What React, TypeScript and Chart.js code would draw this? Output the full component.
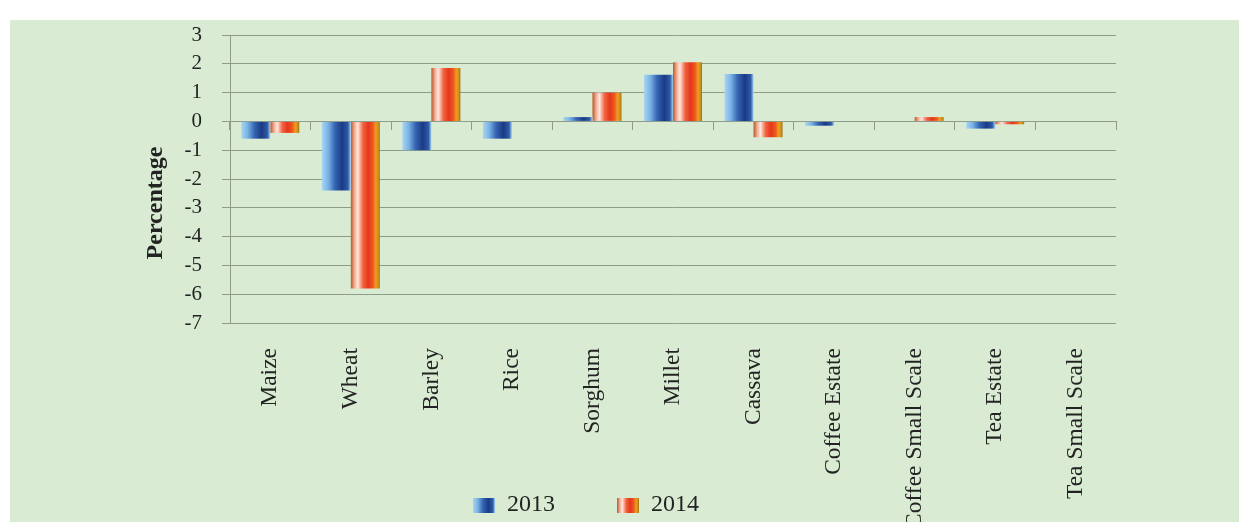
import React, { useEffect, useRef } from 'react';
import { Chart, registerables } from 'chart.js';

Chart.register(...registerables);

const categories = [
  'Maize', 'Wheat', 'Barley', 'Rice', 'Sorghum', 'Millet', 'Cassava',
  'Coffee Estate', 'Coffee Small Scale', 'Tea Estate', 'Tea Small Scale',
];
const seriesLabels = ['2013', '2014'];
const values2013 = [-0.6, -2.4, -1.0, -0.6, 0.15, 1.62, 1.65, -0.15, 0, -0.25, 0];
const values2014 = [-0.4, -5.8, 1.85, 0, 1.0, 2.05, -0.55, 0, 0.15, -0.1, 0];
const yMin = -7;
const yMax = 3;
const yStep = 1;
const yTitle = 'Percentage';

const FONT = "'Liberation Serif', 'DejaVu Serif', serif";
const TEXT = '#232323';
const GREEN = '#d9ecd3';
const GRID = '#8e9c8b';
const PAD_BOTTOM = -5;
const PLOT_BOTTOM = 323;

const blueStops: [number, string][] = [
  [0, '#a9d5f3'], [0.22, '#7ab2e4'], [0.45, '#3565b3'], [0.7, '#1b3a85'],
  [0.9, '#2e5aa6'], [1, '#a4d0f1'],
];
const redStops: [number, string][] = [
  [0, '#b9582a'], [0.14, '#f6b49c'], [0.24, '#fde6de'], [0.42, '#f2623e'],
  [0.6, '#e5361c'], [0.76, '#ec5a1e'], [0.86, '#f39a22'], [0.95, '#c8901a'], [1, '#9e6c12'],
];
const stopsFor = [blueStops, redStops];

function makeIcon(stops: [number, string][]) {
  const c = document.createElement('canvas');
  c.width = 22;
  c.height = 15;
  const g = c.getContext('2d')!;
  const grad = g.createLinearGradient(0, 0, 22, 0);
  stops.forEach(([o, col]) => grad.addColorStop(o, col));
  g.fillStyle = grad;
  g.fillRect(0, 0, 22, 15);
  return c;
}

const backgroundPlugin = {
  id: 'scanBackground',
  beforeDraw(chart: any) {
    const { ctx, width, height } = chart;
    ctx.save();
    ctx.fillStyle = '#ffffff';
    ctx.fillRect(0, 0, width, height);
    ctx.fillStyle = GREEN;
    ctx.fillRect(10, 20, width - 10, height - 20);
    ctx.restore();
  },
};

const stripePlugin = {
  id: 'stripes',
  beforeDatasetsDraw(chart: any) {
    const ctx = chart.ctx;
    chart.data.datasets.forEach((_ds: any, di: number) => {
      const meta = chart.getDatasetMeta(di);
      const stops = stopsFor[di];
      meta.data.forEach((el: any) => {
        const { x, width } = el.getProps(['x', 'width'], true);
        const g = ctx.createLinearGradient(x - width / 2, 0, x + width / 2, 0);
        stops.forEach(([o, c]) => g.addColorStop(o, c));
        el.options.backgroundColor = g;
      });
    });
  },
};

export default function App() {
  const ref = useRef<HTMLCanvasElement | null>(null);

  useEffect(() => {
    document.body.style.margin = '0';
    const canvas = ref.current;
    if (!canvas) return;
    const icons = [makeIcon(blueStops), makeIcon(redStops)];

    const chart = new Chart(canvas, {
      type: 'bar',
      data: {
        labels: categories,
        datasets: [
          { label: seriesLabels[0], data: values2013, backgroundColor: () => '#2f5fae', borderWidth: 0 },
          { label: seriesLabels[1], data: values2014, backgroundColor: () => '#e5361c', borderWidth: 0 },
        ],
      },
      options: {
        responsive: false,
        animation: false,
        datasets: { bar: { categoryPercentage: 0.72, barPercentage: 1 } },
        layout: { padding: { left: 56, right: 123, top: 35, bottom: PAD_BOTTOM } },
        plugins: {
          tooltip: { enabled: false },
          legend: {
            position: 'bottom',
            labels: {
              usePointStyle: true,
              pointStyleWidth: 22,
              padding: 62,
              color: TEXT,
              font: { family: FONT, size: 24 },
              generateLabels: (ch: any) =>
                ch.data.datasets.map((ds: any, i: number) => ({
                  text: ds.label,
                  pointStyle: icons[i],
                  fillStyle: 'transparent',
                  strokeStyle: 'transparent',
                  lineWidth: 0,
                  hidden: false,
                  datasetIndex: i,
                  fontColor: TEXT,
                })),
            },
          },
        },
        scales: {
          x: {
            grid: { display: false, drawTicks: false },
            border: { display: false },
            ticks: {
              autoSkip: false,
              minRotation: 90,
              maxRotation: 90,
              padding: 25,
              color: TEXT,
              font: { family: FONT, size: 23.5 },
            },
            afterFit: (scale: any) => {
              const lg = scale.chart.legend;
              scale.height = scale.chart.height - PAD_BOTTOM - PLOT_BOTTOM - (lg ? lg.height : 0);
              // let the long rotated labels run past the axis box, as in the source
              scale._computeLabelArea = () => undefined;
            },
          },
          x2: {
            type: 'category',
            position: { y: 0 } as any,
            offset: true,
            grid: { offset: true, drawOnChartArea: false, drawTicks: true, tickLength: 9, color: GRID },
            border: { display: false },
            ticks: { display: false },
          },
          y: {
            min: yMin,
            max: yMax,
            ticks: {
              stepSize: yStep,
              autoSkip: false,
              padding: 20,
              color: TEXT,
              font: { family: FONT, size: 21 },
            },
            grid: { color: GRID, tickLength: 8, lineWidth: 1 },
            border: { color: GRID },
            title: {
              display: true,
              text: yTitle + '        ',
              color: TEXT,
              font: { family: FONT, size: 24, weight: 'bold' },
              padding: { top: 85, bottom: 0 },
            },
            afterFit: (scale: any) => {
              scale.width = 174;
            },
          },
        },
      },
      plugins: [backgroundPlugin, stripePlugin],
    } as any);

    return () => chart.destroy();
  }, []);

  return (
    <div style={{ position: 'fixed', left: 0, top: 0, width: 1239, height: 522 }}>
      <canvas ref={ref} width={1239} height={522} style={{ display: 'block' }} />
    </div>
  );
}
